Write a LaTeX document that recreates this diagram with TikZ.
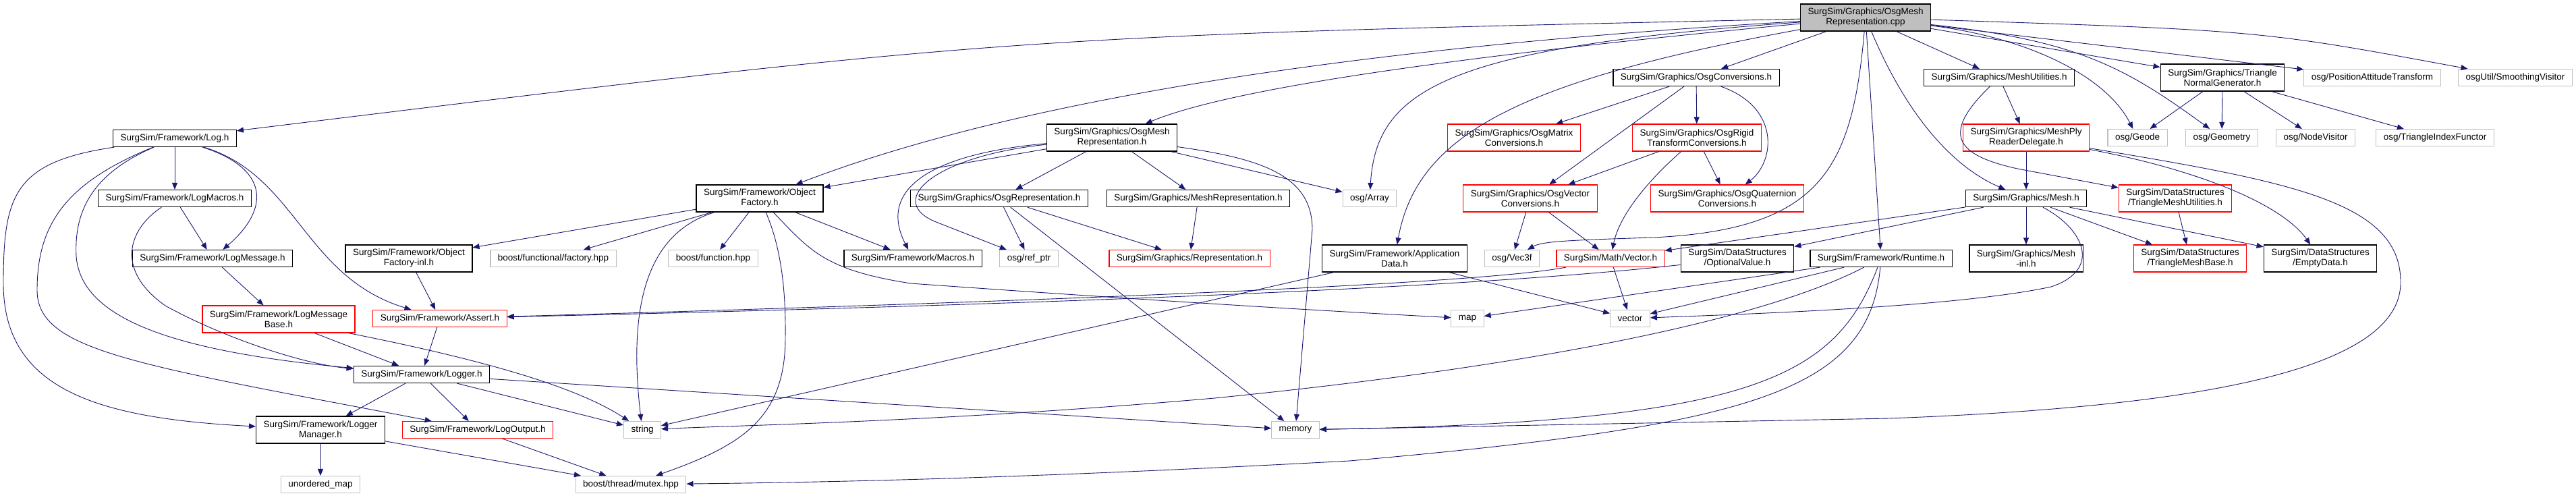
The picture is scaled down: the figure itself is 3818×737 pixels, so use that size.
\documentclass[tikz,border=0pt]{standalone}
\usepackage{fontspec}
\setmainfont{Liberation Sans}
\usetikzlibrary{arrows.meta}
\definecolor{edgeblue}{HTML}{191970}
\definecolor{extgray}{HTML}{BFBFBF}
\definecolor{incred}{HTML}{FF0000}
\newcommand{\gfont}{\fontsize{13.5}{15}\selectfont}

\begin{document}
\begin{tikzpicture}[
  x=1pt, y=-1pt,
  hfile/.style={rectangle, draw=black, line width=1.3pt, fill=white, font=\gfont, align=center, inner xsep=11pt, inner ysep=2pt, minimum height=25pt},
  dbl/.style={minimum height=40pt},
  sysfile/.style={hfile, draw=extgray, line width=1.1pt},
  redfile/.style={hfile, draw=incred, line width=1.1pt},
  mainfile/.style={hfile, fill=extgray},
  arr/.style={-{Triangle[length=10pt,width=8pt]}, line width=0.9pt, edgeblue},
]
  \useasboundingbox (0,0) rectangle (3818,737);

  % The file and its headers
  \node[mainfile, dbl] (root) at (2765,26) {SurgSim/Graphics/OsgMesh\\Representation.cpp};

  \node[hfile] (logh) at (259,205) {SurgSim/Framework/Log.h};
  \node[hfile] (logmac) at (259,294) {SurgSim/Framework/LogMacros.h};
  \node[hfile] (logmsg) at (315,383) {SurgSim/Framework/LogMessage.h};
  \node[redfile, dbl] (logbase) at (413,473) {SurgSim/Framework/LogMessage\\Base.h};
  \node[redfile] (assert) at (652,472) {SurgSim/Framework/Assert.h};
  \node[hfile] (logger) at (625,555) {SurgSim/Framework/Logger.h};
  \node[hfile, dbl] (logmgr) at (475,637) {SurgSim/Framework/Logger\\Manager.h};
  \node[redfile] (logout) at (708,637) {SurgSim/Framework/LogOutput.h};
  \node[sysfile] (string) at (952,637) {string};
  \node[sysfile] (umap) at (475,718) {unordered\_map};
  \node[sysfile] (mutex) at (935,718) {boost/thread/mutex.hpp};
  \node[hfile, dbl] (ofinl) at (606,383) {SurgSim/Framework/Object\\Factory-inl.h};
  \node[sysfile] (factory) at (820,383) {boost/functional/factory.hpp};
  \node[hfile, dbl] (ofact) at (1126,294) {SurgSim/Framework/Object\\Factory.h};

  \node[hfile, dbl] (omrep) at (1648,204) {SurgSim/Graphics/OsgMesh\\Representation.h};
  \node[hfile] (osgrep) at (1481,294) {SurgSim/Graphics/OsgRepresentation.h};
  \node[hfile] (meshrep) at (1776,294) {SurgSim/Graphics/MeshRepresentation.h};
  \node[sysfile] (function) at (1057,383) {boost/function.hpp};
  \node[hfile] (macros) at (1353,383) {SurgSim/Framework/Macros.h};
  \node[sysfile] (refptr) at (1525,383) {osg/ref\_ptr};
  \node[redfile] (repr) at (1763,383) {SurgSim/Graphics/Representation.h};

  \node[hfile] (osgconv) at (2514,115) {SurgSim/Graphics/OsgConversions.h};
  \node[redfile, dbl] (omat) at (2244,204) {SurgSim/Graphics/OsgMatrix\\Conversions.h};
  \node[redfile, dbl] (origid) at (2515,204) {SurgSim/Graphics/OsgRigid\\TransformConversions.h};
  \node[sysfile] (array) at (2030,294) {osg/Array};
  \node[redfile, dbl] (ovec) at (2268,294) {SurgSim/Graphics/OsgVector\\Conversions.h};
  \node[redfile, dbl] (oquat) at (2560,294) {SurgSim/Graphics/OsgQuaternion\\Conversions.h};
  \node[hfile, dbl] (appdata) at (2067,383) {SurgSim/Framework/Application\\Data.h};
  \node[sysfile] (vec3f) at (2241,383) {osg/Vec3f};
  \node[redfile] (mvec) at (2387,383) {SurgSim/Math/Vector.h};
  \node[hfile, dbl] (optval) at (2575,383) {SurgSim/DataStructures\\/OptionalValue.h};
  \node[hfile] (runtime) at (2788,383) {SurgSim/Framework/Runtime.h};
  \node[sysfile] (map) at (2175,472) {map};
  \node[sysfile] (vector) at (2416,472) {vector};
  \node[sysfile] (memory) at (1920,637) {memory};

  \node[hfile] (mutil) at (2963,115) {SurgSim/Graphics/MeshUtilities.h};
  \node[hfile, dbl] (trigen) at (3294,115) {SurgSim/Graphics/Triangle\\NormalGenerator.h};
  \node[sysfile] (pat) at (3516,115) {osg/PositionAttitudeTransform};
  \node[sysfile] (smooth) at (3728,115) {osgUtil/SmoothingVisitor};
  \node[redfile, dbl] (ply) at (3003,204) {SurgSim/Graphics/MeshPly\\ReaderDelegate.h};
  \node[sysfile] (geode) at (3168,204) {osg/Geode};
  \node[sysfile] (geom) at (3293,204) {osg/Geometry};
  \node[sysfile] (nvis) at (3432,204) {osg/NodeVisitor};
  \node[sysfile] (trifun) at (3609,204) {osg/TriangleIndexFunctor};
  \node[hfile] (mesh) at (3003,294) {SurgSim/Graphics/Mesh.h};
  \node[redfile, dbl] (tmutil) at (3224,294) {SurgSim/DataStructures\\/TriangleMeshUtilities.h};
  \node[hfile, dbl] (meshinl) at (3003,383) {SurgSim/Graphics/Mesh\\-inl.h};
  \node[redfile, dbl] (tmbase) at (3246,383) {SurgSim/DataStructures\\/TriangleMeshBase.h};
  \node[hfile, dbl] (empty) at (3439,383) {SurgSim/DataStructures\\/EmptyData.h};

  % Includes of the file itself
  \draw[arr] (root) .. controls (1494,54) .. (logh);
  \draw[arr] (root) .. controls (2000,70) and (1500,150) .. (ofact);
  \draw[arr] (root) .. controls (2300,70) and (1850,120) .. (omrep);
  \draw[arr] (root) .. controls (2150,70) and (2040,130) .. (array);
  \draw[arr] (root) .. controls (2250,120) and (2100,200) .. (appdata);
  \draw[arr] (root) -- (osgconv);
  \draw[arr] (root) .. controls (2745,250) and (2700,340) .. (2450,352) .. controls (2320,356) and (2285,358) .. (vec3f);
  \draw[arr] (root) -- (runtime);
  \draw[arr] (root) .. controls (2830,180) and (2900,250) .. (mesh);
  \draw[arr] (root) -- (mutil);
  \draw[arr] (root) -- (trigen);
  \draw[arr] (root) -- (pat);
  \draw[arr] (root) .. controls (3350,45) .. (smooth);
  \draw[arr] (root) .. controls (3000,55) and (3120,110) .. (geode);
  \draw[arr] (root) .. controls (3080,60) and (3150,100) .. (geom);

  % Conversions
  \draw[arr] (osgconv) -- (omat);
  \draw[arr] (osgconv) -- (origid);
  \draw[arr] (osgconv) -- (ovec);
  \draw[arr] (osgconv) .. controls (2640,160) and (2630,240) .. (oquat);
  \draw[arr] (origid) -- (ovec);
  \draw[arr] (origid) -- (oquat);
  \draw[arr] (origid) .. controls (2440,270) and (2400,320) .. (mvec);
  \draw[arr] (ovec) -- (vec3f);
  \draw[arr] (ovec) -- (mvec);

  % Mesh headers
  \draw[arr] (mesh) -- (optval);
  \draw[arr] (mesh) -- (mvec);
  \draw[arr] (mesh) -- (meshinl);
  \draw[arr] (mesh) -- (tmbase);
  \draw[arr] (mesh) -- (empty);
  \draw[arr] (mesh) .. controls (3090,340) and (3115,400) .. (3040,425) .. controls (2900,455) and (2600,465) .. (vector);
  \draw[arr] (tmutil) -- (tmbase);
  \draw[arr] (ply) -- (mesh);
  \draw[arr] (ply) .. controls (3250,250) and (3380,300) .. (empty);
  \draw[arr] (ply) .. controls (3400,270) and (3560,300) .. (3558,420) .. controls (3556,560) and (3200,605) .. (2800,620) -- (memory);
  \draw[arr] (mutil) -- (ply);
  \draw[arr] (mutil) .. controls (2875,200) and (2900,230) .. (2990,250) -- (tmutil);
  \draw[arr] (trigen) -- (geode);
  \draw[arr] (trigen) -- (geom);
  \draw[arr] (trigen) -- (nvis);
  \draw[arr] (trigen) -- (trifun);

  % Representation headers
  \draw[arr] (omrep) -- (ofact);
  \draw[arr] (omrep) .. controls (1380,228) and (1300,280) .. (macros);
  \draw[arr] (omrep) .. controls (1380,232) and (1310,300) .. (1390,330) -- (refptr);
  \draw[arr] (omrep) -- (osgrep);
  \draw[arr] (omrep) -- (meshrep);
  \draw[arr] (omrep) -- (array);
  \draw[arr] (omrep) .. controls (1870,235) and (1945,260) .. (1945,340) -- (memory);
  \draw[arr] (osgrep) -- (refptr);
  \draw[arr] (osgrep) -- (memory);
  \draw[arr] (osgrep) -- (repr);
  \draw[arr] (meshrep) -- (repr);

  % Object factory
  \draw[arr] (ofact) -- (ofinl);
  \draw[arr] (ofact) -- (factory);
  \draw[arr] (ofact) .. controls (960,345) and (930,450) .. (string);
  \draw[arr] (ofact) -- (function);
  \draw[arr] (ofact) .. controls (1155,360) and (1165,420) .. (1164,500) .. controls (1164,620) and (1100,660) .. (mutex);
  \draw[arr] (ofact) .. controls (1200,370) and (1220,400) .. (1350,420) .. controls (1700,445) and (1950,460) .. (map);
  \draw[arr] (ofact) -- (macros);

  % Logging
  \draw[arr] (logh) -- (logmac);
  \draw[arr] (logh) .. controls (400,250) and (400,310) .. (logmsg);
  \draw[arr] (logmac) -- (logmsg);
  \draw[arr] (logh) .. controls (440,260) and (450,410) .. (assert);
  \draw[arr] (logh) .. controls (20,240) and (5,290) .. (5,420) .. controls (5,580) and (150,620) .. (logmgr);
  \draw[arr] (logh) .. controls (100,270) and (55,330) .. (55,430) .. controls (55,520) and (200,540) .. (logout);
  \draw[arr] (logh) .. controls (130,260) and (110,320) .. (113,380) .. controls (120,470) and (250,520) .. (logger);
  \draw[arr] (logmac) .. controls (190,340) and (170,400) .. (245,453) .. controls (330,500) and (450,540) .. (logger);
  \draw[arr] (logmsg) -- (logbase);
  \draw[arr] (logbase) -- (logger);
  \draw[arr] (logbase) .. controls (700,530) and (850,570) .. (string);
  \draw[arr] (assert) -- (logger);
  \draw[arr] (ofinl) -- (assert);
  \draw[arr] (logger) -- (logmgr);
  \draw[arr] (logger) -- (logout);
  \draw[arr] (logger) -- (string);
  \draw[arr] (logger) -- (memory);
  \draw[arr] (logmgr) -- (umap);
  \draw[arr] (logmgr) -- (mutex);
  \draw[arr] (logout) -- (mutex);

  % Framework and math headers
  \draw[arr] (appdata) -- (string);
  \draw[arr] (appdata) -- (vector);
  \draw[arr] (mvec) .. controls (2200,420) and (1600,445) .. (assert);
  \draw[arr] (mvec) -- (vector);
  \draw[arr] (optval) .. controls (2200,425) and (1600,450) .. (assert);
  \draw[arr] (runtime) -- (map);
  \draw[arr] (runtime) -- (vector);
  \draw[arr] (runtime) .. controls (2620,470) and (2300,540) .. (1800,590) .. controls (1400,625) and (1100,630) .. (string);
  \draw[arr] (runtime) .. controls (2720,560) and (2600,625) .. (memory);
  \draw[arr] (runtime) .. controls (2770,580) and (2600,630) .. (2000,683) .. controls (1500,710) and (1200,715) .. (mutex);
\end{tikzpicture}
\end{document}
